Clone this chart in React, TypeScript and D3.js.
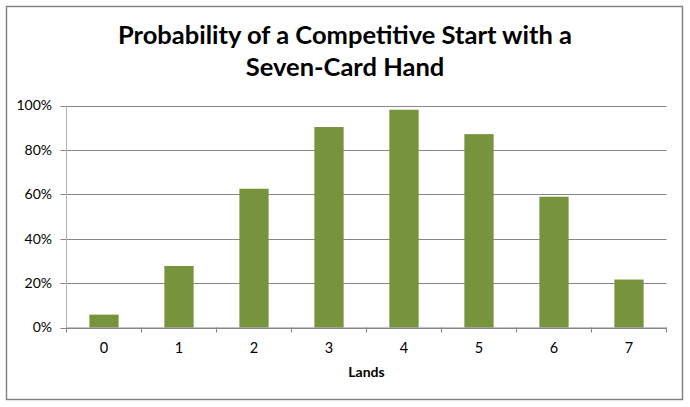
import React from 'react';
import * as d3 from 'd3';

const titleLines = ['Probability of a Competitive Start with a', 'Seven-Card Hand'];
const lands = ['0', '1', '2', '3', '4', '5', '6', '7'];
const probability = [0.058, 0.277, 0.625, 0.903, 0.981, 0.871, 0.589, 0.216];
const yTicks = [0, 0.2, 0.4, 0.6, 0.8, 1];
const xTitle = 'Lands';

const W = 690;
const H = 407;
const font = 'Lato, Calibri, "Open Sans", sans-serif';

function App() {
  const plot = { left: 66.5, right: 666.5, top: 105.5, bottom: 327.5 };

  // category slots (tick marks sit on slot edges)
  const slots = d3.scaleBand().domain(lands).range([plot.left, plot.right]).padding(0);
  // bars inside the slots
  const x = d3.scaleBand()
    .domain(lands)
    .range([plot.left, plot.right])
    .paddingInner(0.61)
    .paddingOuter(0.305);
  const y = d3.scaleLinear().domain([0, 1]).range([plot.bottom, plot.top]);
  const pct = d3.format('.0%');

  return (
    <svg width={W} height={H} style={{ position: 'absolute', left: 0, top: 0, background: '#fff' }}>
      <rect x={6.5} y={6.5} width={676} height={393} fill="#fff" stroke="#7f7f7f" strokeWidth={1.4} />

      <g fontFamily={font} fontWeight="bold" fontSize={25.5} textAnchor="middle" fill="#000">
        {titleLines.map((t, i) => (
          <text key={t} x={345} y={44.3 + i * 31.7}>{t}</text>
        ))}
      </g>

      {/* gridlines + value axis labels */}
      <g>
        {yTicks.map(t => (
          <g key={t}>
            <line x1={plot.left - 6} x2={plot.right} y1={Math.round(y(t)) + 0.5} y2={Math.round(y(t)) + 0.5}
              stroke="#868686" strokeWidth={1} />
            <text x={52} y={y(t)} dy="0.35em" textAnchor="end" fontFamily={font} fontSize={14} fill="#000">
              {pct(t)}
            </text>
          </g>
        ))}
      </g>

      {/* left axis line */}
      <line x1={plot.left} x2={plot.left} y1={plot.top} y2={plot.bottom} stroke="#b3b3b3" strokeWidth={1} />

      {/* bars */}
      <g>
        {lands.map((c, i) => (
          <rect key={c} x={x(c)} y={y(probability[i])} width={x.bandwidth()}
            height={plot.bottom - y(probability[i])} fill="#77933C" />
        ))}
      </g>

      {/* category axis */}
      <line x1={plot.left} x2={plot.right} y1={plot.bottom + 0.5} y2={plot.bottom + 0.5} stroke="#868686" strokeWidth={1} />
      {[...lands.map(c => slots(c) as number), plot.right].map((px, i) => (
        <line key={i} x1={px} x2={px} y1={plot.bottom} y2={plot.bottom + 5} stroke="#868686" strokeWidth={1} />
      ))}
      {lands.map(c => (
        <text key={c} x={(slots(c) as number) + slots.bandwidth() / 2} y={352.7} textAnchor="middle"
          fontFamily={font} fontSize={14.5} fill="#000">{c}</text>
      ))}
      <text x={(plot.left + plot.right) / 2} y={376.7} textAnchor="middle" fontFamily={font}
        fontWeight="bold" fontSize={14} fill="#000">{xTitle}</text>
    </svg>
  );
}

export default App;
